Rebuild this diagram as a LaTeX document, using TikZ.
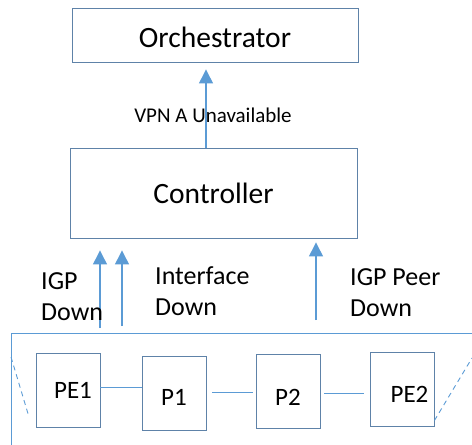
\documentclass[tikz,border=0pt]{standalone}
\usepackage{fontspec}
\setmainfont{Carlito}
\usetikzlibrary{arrows.meta}

\definecolor{boxblue}{HTML}{5E82A8}
\definecolor{lineblue}{HTML}{5B9BD5}

\begin{document}
\begin{tikzpicture}[x=1pt,y=-1pt,
  box/.style={draw=boxblue,line width=0.9pt,inner sep=0pt,text depth=0pt},
  bigbox/.style={box,font=\fontsize{29.5}{34}\selectfont},
  nodebox/.style={box,minimum width=64,minimum height=74,font=\fontsize{25}{30}\selectfont},
  link/.style={draw=lineblue,line width=0.9pt},
  upline/.style={draw=lineblue,line width=1.3pt,-{Triangle[width=14pt,length=14pt]}},
  lbl/.style={font=\fontsize{26}{31}\selectfont,align=left,anchor=north west,inner sep=0pt}]
				\useasboundingbox (0,0) rectangle (472,445);
				
				\node[bigbox,minimum width=286,minimum height=54,text height=24pt] (orch) at (215,35) {Orchestrator};
				\node[bigbox,minimum width=287,minimum height=90,text height=21pt] (ctrl) at (213.5,193) {Controller};
				
				\coordinate (vpnA) at (206,148);
				\draw[upline,shorten >=7pt] (vpnA) -- (vpnA |- orch.south);
				\node[font=\fontsize{21}{24}\selectfont] (vpnlbl) at (213,115) {VPN A Unavailable};
				
				\coordinate (igp) at (100,328);
				\coordinate (intf) at (122,326);
				\coordinate (peer) at (316,320);
				\draw[upline,shorten >=12pt] (igp) -- (igp |- ctrl.south);
				\draw[upline,shorten >=12pt] (intf) -- (intf |- ctrl.south);
				\draw[upline,shorten >=4pt] (peer) -- (peer |- ctrl.south);
				\node[lbl] (igplbl) at (41,272) {IGP\\Down};
				\node[lbl] (intflbl) at (155,266) {Interface\\Down};
				\node[lbl] (peerlbl) at (350,268) {IGP Peer\\Down};
				
				\coordinate (ringTR) at (472,333);
				\coordinate (ringTL) at (11,333);
				\coordinate (ringBL) at (11,445);
				\draw[link] (ringTR) -- (ringTL) -- (ringBL);
				
				\node[nodebox,text height=16pt] (pe1) at (68,390) {\hspace{10pt}PE1};
				\node[nodebox,text height=25pt] (p1) at (174,393) {P1};
				\node[nodebox,text height=29pt] (p2) at (288,391) {P2};
				\node[nodebox,text height=27pt] (pe2) at (402,389) {\hspace{15pt}PE2};
				
				\draw[link] ([yshift=3pt]pe1.east) -- ([yshift=3pt]pe1.east -| p1.west);
				\draw[link] ([xshift=6pt,yshift=1pt]p1.east) -- ([xshift=-3pt,yshift=1pt]p1.east -| p2.west);
				\draw[link] ([xshift=4pt,yshift=-2pt]p2.east) -- ([xshift=-6pt,yshift=-2pt]p2.east -| pe2.west);
				
				\coordinate (dashL1) at (11,357);
				\coordinate (dashL2) at (29,417);
				\coordinate (dashR2) at (472,358);
				\draw[link,dash pattern=on 5pt off 4pt] (dashL1) -- (dashL2);
				\draw[link,dash pattern=on 5pt off 4pt] (pe2.south east) ++(0,-6) -- (dashR2);
			\end{tikzpicture}
\end{document}
